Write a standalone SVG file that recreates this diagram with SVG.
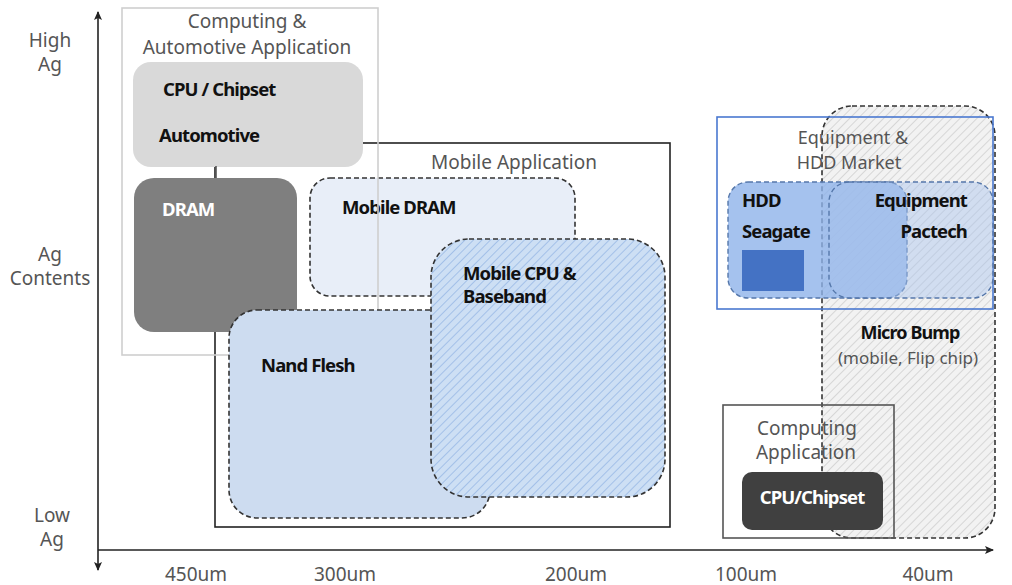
<svg xmlns="http://www.w3.org/2000/svg" width="1012" height="585" viewBox="0 0 1012 585">
<defs>
<style>
.t{font-family:"Noto Sans","Liberation Sans",sans-serif;font-size:19px;fill:#555}
.b{font-family:"Noto Sans","Liberation Sans",sans-serif;font-size:18.5px;font-weight:bold;fill:#111;letter-spacing:-0.9px}
.w{fill:#fff}
.dash{stroke:#333;stroke-width:1.6;stroke-dasharray:5 3}
.ax{stroke:#222;stroke-width:1.6;fill:none}
</style>
<pattern id="hb" patternUnits="userSpaceOnUse" width="6" height="6" patternTransform="rotate(45)">
<rect width="6" height="6" fill="#cddff4"/>
<line x1="0" y1="0" x2="0" y2="6" stroke="#a3c0e8" stroke-width="2"/>
</pattern>
<pattern id="hg" patternUnits="userSpaceOnUse" width="6" height="6" patternTransform="rotate(45)">
<rect width="6" height="6" fill="#f2f2f2"/>
<line x1="0" y1="0" x2="0" y2="6" stroke="#d6d6d6" stroke-width="2"/>
</pattern>
<marker id="ah" markerWidth="10" markerHeight="10" refX="8" refY="5" orient="auto-start-reverse" markerUnits="userSpaceOnUse">
<path d="M0,1 L9,5 L0,9 L2,5 Z" fill="#222"/>
</marker>
</defs>
<rect width="1012" height="585" fill="#fff"/>

<g id="axes">
<line class="ax" x1="98" y1="550" x2="98" y2="12" marker-end="url(#ah)"/>
<line class="ax" x1="98" y1="550" x2="98" y2="570" marker-end="url(#ah)"/>
<line class="ax" x1="98" y1="550" x2="993" y2="550" marker-end="url(#ah)"/>
<text class="t" x="50" y="47" text-anchor="middle">High</text>
<text class="t" x="50" y="71" text-anchor="middle">Ag</text>
<text class="t" x="50" y="261" text-anchor="middle">Ag</text>
<text class="t" x="50" y="285" text-anchor="middle">Contents</text>
<text class="t" x="52" y="522" text-anchor="middle">Low</text>
<text class="t" x="52" y="546" text-anchor="middle">Ag</text>
<text class="t" x="196" y="581" text-anchor="middle">450um</text>
<text class="t" x="345" y="581" text-anchor="middle">300um</text>
<text class="t" x="576" y="581" text-anchor="middle">200um</text>
<text class="t" x="746" y="581" text-anchor="middle">100um</text>
<text class="t" x="928" y="581" text-anchor="middle">40um</text>
</g>

<g id="mobile-app">
<rect x="215" y="143" width="455" height="384" fill="none" stroke="#222" stroke-width="1.6"/>
<text class="t" x="514" y="169" text-anchor="middle">Mobile Application</text>
</g>

<g id="mobile-dram">
<rect class="dash" x="310" y="178" width="265" height="118" rx="20" fill="#e8eef8"/>
<text class="b" x="342" y="214">Mobile DRAM</text>
</g>

<g id="computing-automotive">
<rect x="122" y="8" width="256" height="347" fill="none" stroke="#cfcfcf" stroke-width="1.6"/>
<text class="t" x="247" y="28" text-anchor="middle">Computing &amp;</text>
<text class="t" x="247" y="54" text-anchor="middle">Automotive Application</text>
</g>

<g id="cpu-chipset">
<rect x="133" y="62" width="230" height="105" rx="18" fill="#d9d9d9"/>
<text class="b" x="163" y="96">CPU / Chipset</text>
<text class="b" x="159" y="142">Automotive</text>
</g>

<g id="connectors">
<line x1="216" y1="166" x2="216" y2="180" stroke="#555" stroke-width="1.6"/>
</g>

<g id="dram">
<rect x="134" y="178" width="163" height="154" rx="20" fill="#7f7f7f"/>
<text class="b w" x="162" y="216">DRAM</text>
</g>

<g id="nand">
<rect class="dash" x="229" y="310" width="261" height="208" rx="28" fill="#cddcf0"/>
<text class="b" x="261" y="372">Nand Flesh</text>
</g>

<g id="mobile-cpu">
<rect class="dash" x="431" y="239" width="234" height="258" rx="38" fill="url(#hb)"/>
<text class="b" x="463" y="280">Mobile CPU &amp;</text>
<text class="b" x="463" y="303">Baseband</text>
</g>

<g id="micro-bump">
<rect class="dash" x="822" y="106" width="173" height="432" rx="30" fill="url(#hg)"/>
<text class="b" x="910" y="339" text-anchor="middle" style="font-size:18px">Micro Bump</text>
<text class="t" x="908" y="364" text-anchor="middle" style="font-size:17px">(mobile, Flip chip)</text>
</g>

<g id="computing-app">
<rect x="723" y="405" width="171" height="133" fill="none" stroke="#555" stroke-width="1.6"/>
<text class="t" x="807" y="435" text-anchor="middle">Computing</text>
<text class="t" x="806" y="459" text-anchor="middle">Application</text>
</g>

<g id="cpu-chipset-2">
<rect x="742" y="472" width="141" height="58" rx="10" fill="#404040"/>
<text class="b w" x="812" y="504" text-anchor="middle">CPU/Chipset</text>
</g>

<g id="equipment-hdd">
<rect x="717" y="117" width="276" height="192" fill="none" stroke="#4a78d0" stroke-width="1.6"/>
<text class="t" x="853" y="144" text-anchor="middle" style="font-size:18px">Equipment &amp;</text>
<text class="t" x="849" y="169" text-anchor="middle" style="font-size:18px">HDD Market</text>
</g>

<g id="hdd">
<rect x="728" y="182" width="179" height="116" rx="20" fill="#8fb3ea" fill-opacity="0.8" stroke="#5577aa" stroke-width="1.4" stroke-dasharray="5 3"/>
<text class="b" x="742" y="207">HDD</text>
<text class="b" x="742" y="238">Seagate</text>
<rect x="742" y="250" width="62" height="41" fill="#4472c4"/>
</g>

<g id="equipment">
<rect x="829" y="182" width="164" height="116" rx="20" fill="#a9c4ee" fill-opacity="0.45" stroke="#5577aa" stroke-width="1.4" stroke-dasharray="5 3"/>
<text class="b" x="967" y="207" text-anchor="end">Equipment</text>
<text class="b" x="967" y="238" text-anchor="end">Pactech</text>
</g>
</svg>
